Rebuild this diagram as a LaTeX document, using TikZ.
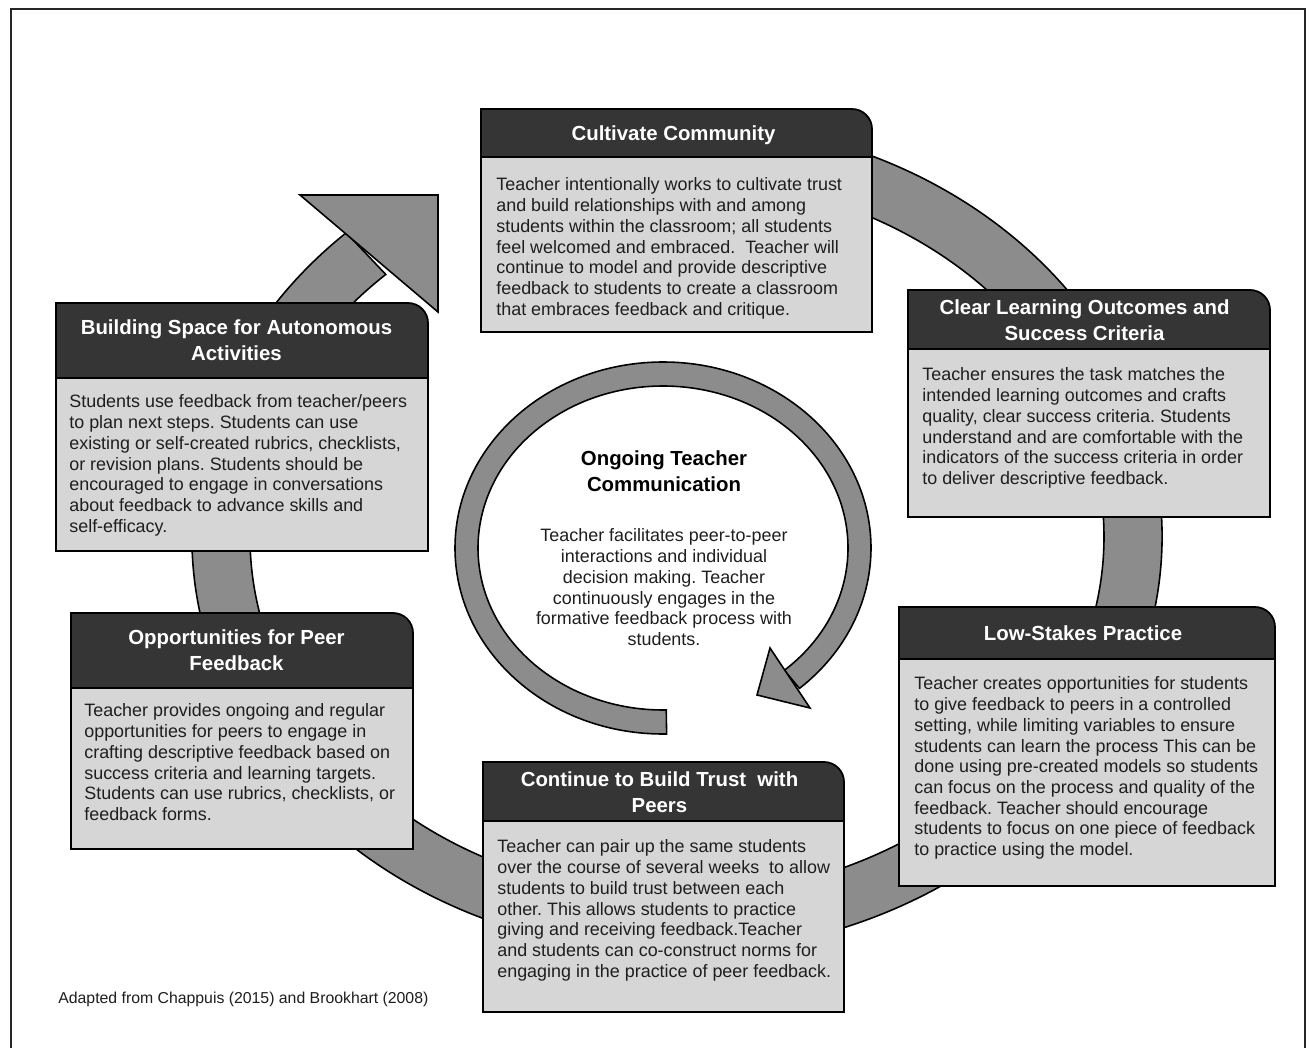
\documentclass[tikz,border=0pt]{standalone}
\usepackage{fontspec}
\setmainfont{Liberation Sans}
\frenchspacing
\definecolor{hdrc}{HTML}{353535}
\definecolor{bodyc}{HTML}{D6D6D6}
\definecolor{ringc}{HTML}{8C8C8C}
\definecolor{txtc}{HTML}{1E1E1E}
\newcommand{\cardbox}[5]{%
  \fill[bodyc, draw=black, line width=1pt] (#1,-#3) rectangle (#4,-#5);
  \fill[hdrc, draw=black, line width=1pt] (#1,-#3) -- (#1,-#2) -- ({#4-20},-#2) arc[start angle=90,end angle=0,radius=20] -- (#4,-#3) -- cycle;
}
\tikzset{
  bodytext/.style={anchor=north west, inner sep=0pt, align=left, text=txtc, font=\frenchspacing\fontsize{10.2}{11.8}\selectfont},
  hdrtext/.style={inner sep=0pt, align=center, text=white, font=\frenchspacing\bfseries\fontsize{11.6}{15}\selectfont},
  ringshape/.style={fill=ringc, draw=black, line width=0.9pt, line join=miter},
}
\begin{document}
\begin{tikzpicture}[x=0.02cm,y=0.02cm]
\useasboundingbox (0,0) rectangle (1309,-1048);
\fill[white] (0,0) rectangle (1309,-1048);
\draw[line width=1.2pt, black!85] (11,-1048) -- (11,-9) -- (1305,-9) -- (1305,-1048);

% big cycle ring
\path[ringshape] ({677+485*cos(80)},{-537+416*sin(80)})
  arc[start angle=80,end angle=-227,x radius=485,y radius=416]
  -- ({677+427*cos(-227)},{-537+359*sin(-227)})
  arc[start angle=-227,end angle=80,x radius=427,y radius=359] -- cycle;
\path[ringshape] (300,-195) -- (438,-195) -- (438,-312) -- cycle;

% inner ring
\path[ringshape] ({663+208*cos(-89)},{-548+186*sin(-89)})
  arc[start angle=-89,end angle=-409,x radius=208,y radius=186]
  -- ({663+185*cos(-409)},{-548+162*sin(-409)})
  arc[start angle=-409,end angle=-89,x radius=185,y radius=162] -- cycle;
\path[ringshape] (770,-648) -- (757,-695) -- (810,-708) -- cycle;

% boxes
\cardbox{481}{109}{157}{872}{332}
\cardbox{908}{290}{349}{1270}{517}
\cardbox{899}{607}{659}{1275}{886}
\cardbox{483}{762}{821}{844}{1012}
\cardbox{71}{613}{688}{413}{849}
\cardbox{56}{303}{378}{428}{551}

\node[hdrtext] (h1) at (673.5,-135) {Cultivate Community};
\node[bodytext] (b1) at (496,-177.5) {Teacher intentionally works to cultivate trust\\
and build relationships with and among\\
students within the classroom; all students\\
feel welcomed and embraced.~~Teacher will\\
continue to model and provide descriptive\\
feedback to students to create a classroom\\
that embraces feedback and critique.};

\node[hdrtext] (h2) at (1084.5,-320) {Clear Learning Outcomes and\\Success Criteria};
\node[bodytext] (b2) at (922,-367.5) {Teacher ensures the task matches the\\
intended learning outcomes and crafts\\
quality, clear success criteria. Students\\
understand and are comfortable with the\\
indicators of the success criteria in order\\
to deliver descriptive feedback.};

\node[hdrtext] (h3) at (1083,-633) {Low-Stakes Practice};
\node[bodytext] (b3) at (914,-676.5) {Teacher creates opportunities for students\\
to give feedback to peers in a controlled\\
setting, while limiting variables to ensure\\
students can learn the process This can be\\
done using pre-created models so students\\
can focus on the process and quality of the\\
feedback. Teacher should encourage\\
students to focus on one piece of feedback\\
to practice using the model.};

\node[hdrtext] (h4) at (659.5,-792) {Continue to Build Trust~~with\\Peers};
\node[bodytext] (b4) at (497,-839.5) {Teacher can pair up the same students\\
over the course of several weeks~~to allow\\
students to build trust between each\\
other. This allows students to practice\\
giving and receiving feedback.Teacher\\
and students can co-construct norms for\\
engaging in the practice of peer feedback.};

\node[hdrtext] (h5) at (236.5,-650.5) {Opportunities for Peer\\Feedback};
\node[bodytext] (b5) at (84,-703.5) {Teacher provides ongoing and regular\\
opportunities for peers to engage in\\
crafting descriptive feedback based on\\
success criteria and learning targets.\\
Students can use rubrics, checklists, or\\
feedback forms.};

\node[hdrtext] (h6) at (236.5,-340.5) {Building Space for Autonomous\\Activities};
\node[bodytext] (b6) at (69,-394.5) {Students use feedback from teacher/peers\\
to plan next steps. Students can use\\
existing or self-created rubrics, checklists,\\
or revision plans. Students should be\\
encouraged to engage in conversations\\
about feedback to advance skills and\\
self-efficacy.};

\node[hdrtext, text=black] (ct) at (664,-471.5) {Ongoing Teacher\\Communication};
\node[bodytext, anchor=north, align=center] (cb) at (664,-528.5) {Teacher facilitates peer-to-peer\\
interactions and individual\\
decision making. Teacher\\
continuously engages in the\\
formative feedback process with\\
students.};

\node[anchor=west, inner sep=0pt, text=txtc, font=\fontsize{9}{11}\selectfont] (fn) at (58,-999) {Adapted from Chappuis (2015) and Brookhart (2008)};
\end{tikzpicture}
\end{document}
